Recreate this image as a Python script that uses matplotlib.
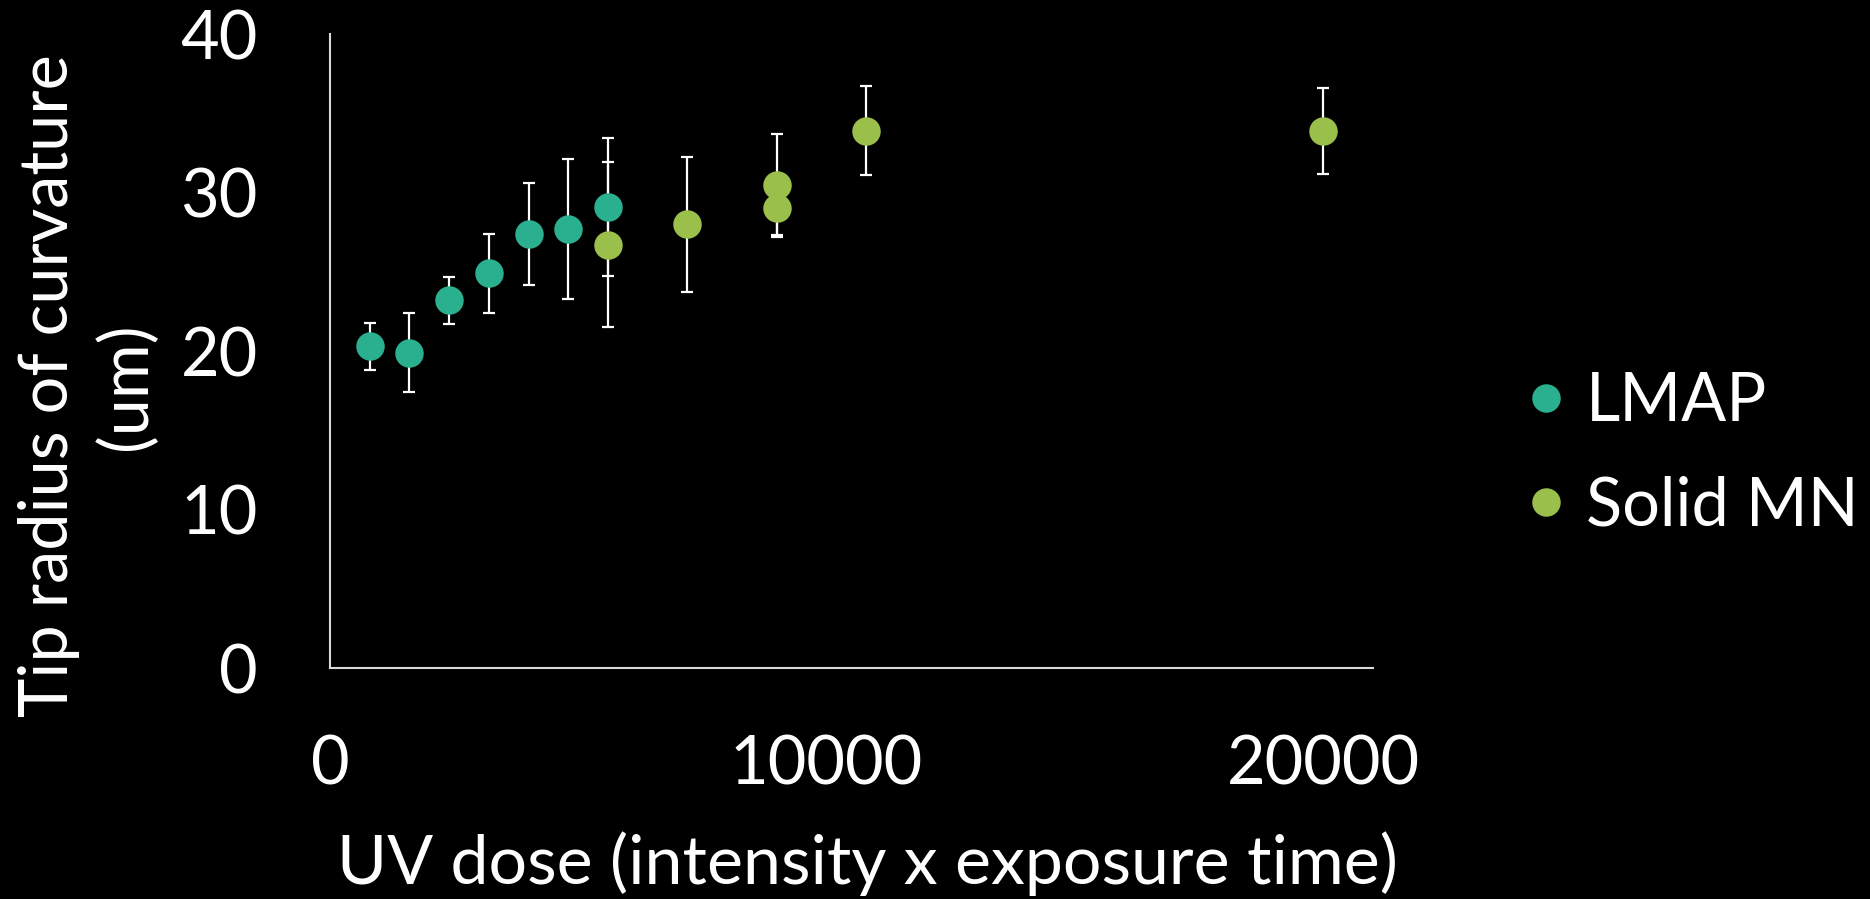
import matplotlib
matplotlib.use("Agg")
import matplotlib.pyplot as plt

plt.rcParams["font.family"] = ["Lato", "DejaVu Sans"]

# UV dose values and measured tip radius (um) with error bars
lmap_dose = [800, 1600, 2400, 3200, 4000, 4800, 5600]
lmap_radius = [20.3, 19.9, 23.2, 24.9, 27.4, 27.7, 29.1]
lmap_err = [1.5, 2.5, 1.5, 2.5, 3.2, 4.4, 4.35]

solid_dose = [5600, 7200, 9000, 9000, 10800, 20000]
solid_radius = [26.7, 28.0, 30.5, 29.0, 33.9, 33.9]
solid_err = [5.2, 4.25, 3.2, 1.8, 2.8, 2.7]

x_ticks = [0, 10000, 20000]
y_ticks = [0, 10, 20, 30, 40]

LMAP_COLOR = "#2AB08F"
SOLID_COLOR = "#9BBF4B"
AXIS_COLOR = "#d9d9d9"

fig = plt.figure(figsize=(18.7, 8.99), dpi=100, facecolor="black")
ax = fig.add_axes([330 / 1870, 1 - 668.3 / 899, (1372.7 - 330) / 1870, (668.3 - 34) / 899])
ax.set_facecolor("black")

err_style = dict(fmt="none", ecolor="white", elinewidth=1.6, capsize=4.5, capthick=1.6, zorder=2)
ax.errorbar(lmap_dose, lmap_radius, yerr=lmap_err, **err_style)
ax.errorbar(solid_dose, solid_radius, yerr=solid_err, **err_style)
ax.plot(lmap_dose, lmap_radius, "o", ms=20.5, color=LMAP_COLOR, mec="none", label="LMAP", zorder=3)
ax.plot(solid_dose, solid_radius, "o", ms=20.5, color=SOLID_COLOR, mec="none", label="Solid MN", zorder=4)

ax.set_xlim(0, 21000)
ax.set_ylim(0, 40)
ax.set_xticks(x_ticks)
ax.set_yticks(y_ticks)
ax.tick_params(length=0, labelsize=48, colors="white")
ax.tick_params(axis="y", pad=52)
ax.tick_params(axis="x", pad=48)
for side in ["top", "right"]:
    ax.spines[side].set_visible(False)
for side in ["left", "bottom"]:
    ax.spines[side].set_color(AXIS_COLOR)
    ax.spines[side].set_linewidth(1.5)

fig.text(88 / 1870, 1 - 386 / 899, "Tip radius of curvature\n(um)", rotation=90,
         ha="center", va="center", multialignment="center", fontsize=48, color="white",
         linespacing=1.3)
fig.text(867 / 1870, 1 - 864 / 899, "UV dose (intensity x exposure time)",
         ha="center", va="center", fontsize=49, color="white")

leg = fig.legend(loc="center left", bbox_to_anchor=(1526 / 1870, 1 - 454 / 899),
                 frameon=False, fontsize=48, handlelength=0.6, handletextpad=0.3,
                 labelspacing=0.63, markerscale=1.0, borderaxespad=0, borderpad=0)
for text in leg.get_texts():
    text.set_color("white")

fig.savefig("out.png", dpi=100, facecolor="black")
